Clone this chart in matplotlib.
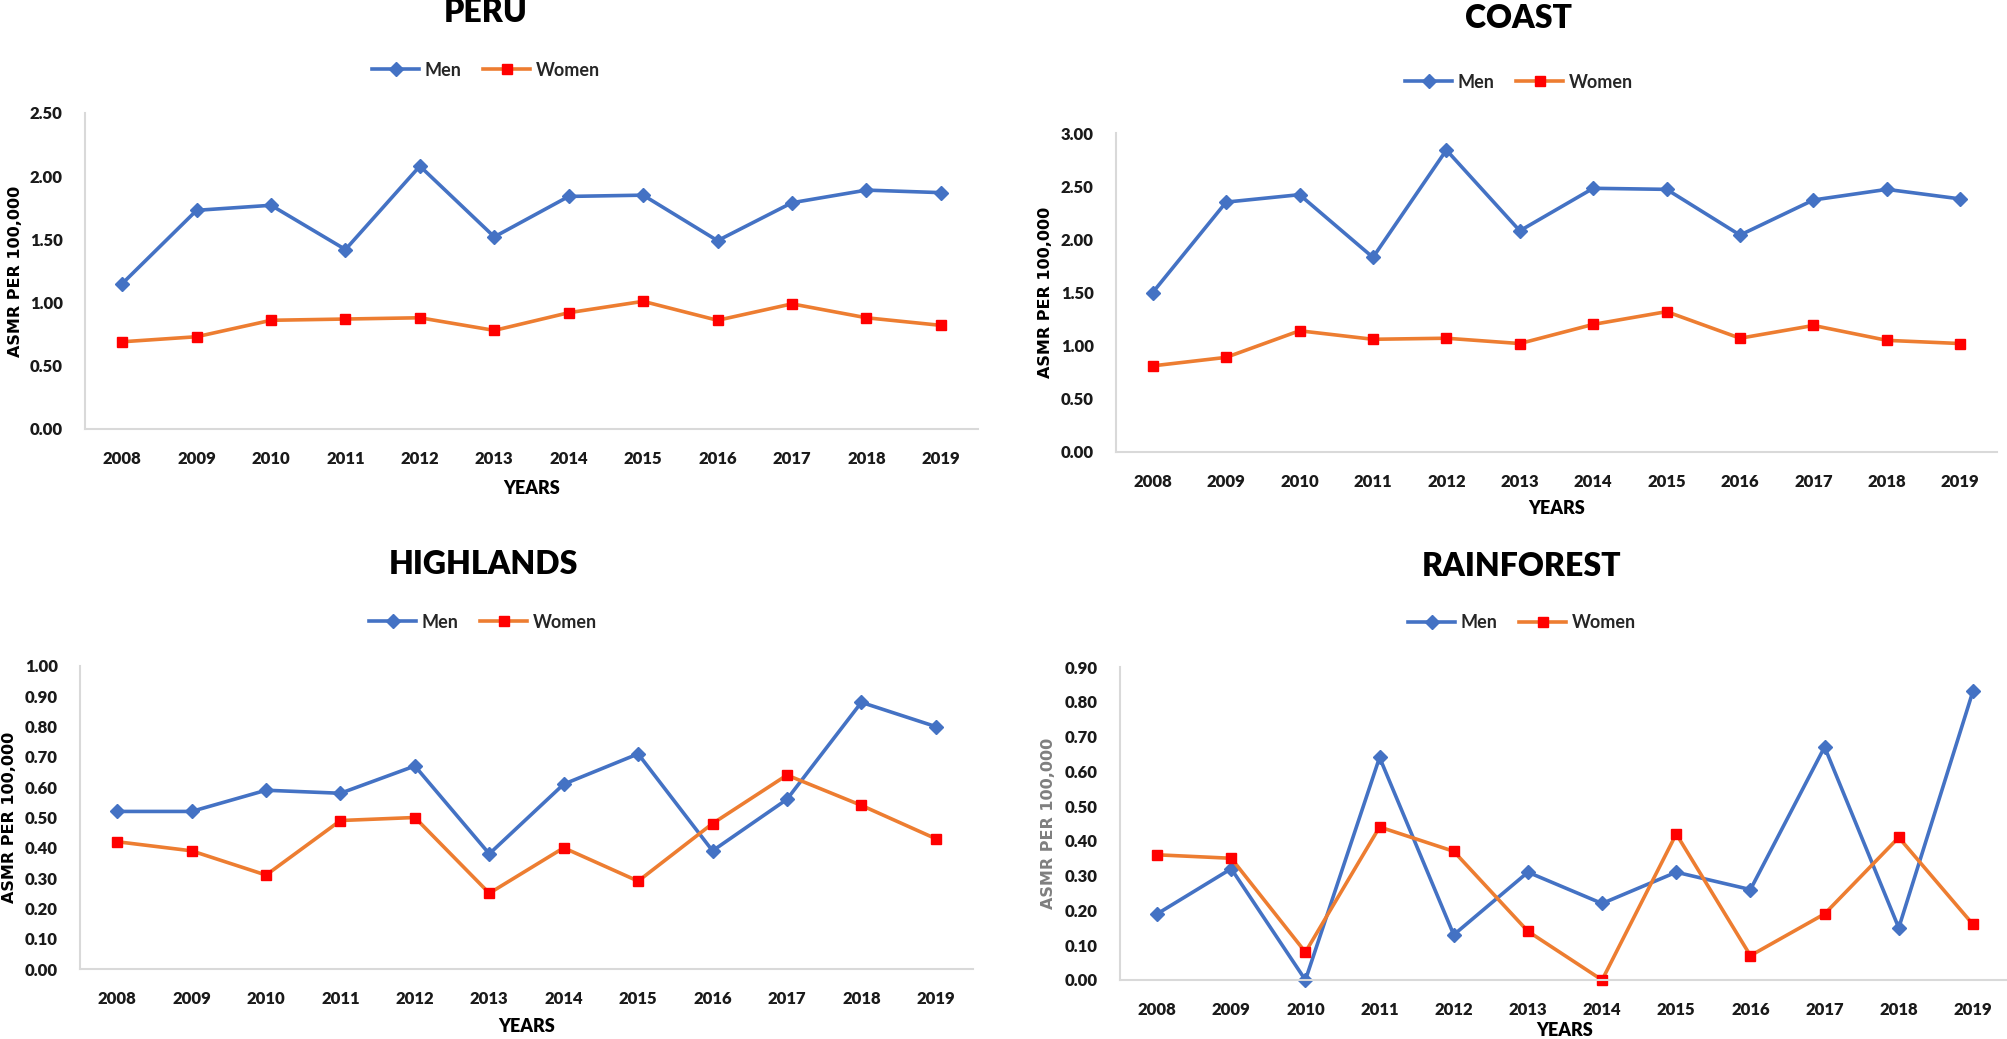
import matplotlib
matplotlib.use('Agg')
import matplotlib.pyplot as plt
from matplotlib import font_manager

years = ['2008', '2009', '2010', '2011', '2012', '2013', '2014', '2015', '2016', '2017', '2018', '2019']

peru_men = [1.15, 1.73, 1.77, 1.42, 2.08, 1.52, 1.84, 1.85, 1.49, 1.79, 1.89, 1.87]
peru_women = [0.69, 0.73, 0.86, 0.87, 0.88, 0.78, 0.92, 1.01, 0.86, 0.99, 0.88, 0.82]

coast_men = [1.50, 2.35, 2.42, 1.83, 2.84, 2.08, 2.48, 2.47, 2.04, 2.37, 2.47, 2.38]
coast_women = [0.81, 0.89, 1.14, 1.06, 1.07, 1.02, 1.20, 1.32, 1.07, 1.19, 1.05, 1.02]

highlands_men = [0.52, 0.52, 0.59, 0.58, 0.67, 0.38, 0.61, 0.71, 0.39, 0.56, 0.88, 0.80]
highlands_women = [0.42, 0.39, 0.31, 0.49, 0.50, 0.25, 0.40, 0.29, 0.48, 0.64, 0.54, 0.43]

rain_men = [0.19, 0.32, 0.00, 0.64, 0.13, 0.31, 0.22, 0.31, 0.26, 0.67, 0.15, 0.83]
rain_women = [0.36, 0.35, 0.08, 0.44, 0.37, 0.14, 0.00, 0.42, 0.07, 0.19, 0.41, 0.16]

available = set(f.name for f in font_manager.fontManager.ttflist)
narrow = 'Liberation Sans Narrow' if 'Liberation Sans Narrow' in available else 'Lato'

W, H = 2008, 1039
fig = plt.figure(figsize=(W / 100, H / 100), dpi=100)

# (title, men, women, ymax, ystep, axes box px [left, right, top, bottom], title xy, legend y, ylabel x, years y, ylabel colour)
panels = [
    ('PERU', peru_men, peru_women, 2.5, 0.5, [85, 978, 113, 429], (486, 12), 70, 16, 488, '#000000'),
    ('COAST', coast_men, coast_women, 3.0, 0.5, [1116, 1997, 133, 452], (1519, 19), 82, 1046, 508, '#000000'),
    ('HIGHLANDS', highlands_men, highlands_women, 1.0, 0.1, [80, 973, 666, 969], (483, 565), 622, 10, 1027, '#000000'),
    ('RAINFOREST', rain_men, rain_women, 0.9, 0.1, [1120, 2010, 667, 980], (1522, 567), 623, 1049, 1031, '#7f7f7f'),
]

for title, men, women, ymax, ystep, box, tpos, legy, ylx, yry, ylc in panels:
    l, r, t, b = box
    ax = fig.add_axes([l / W, 1 - b / H, (r - l) / W, (b - t) / H])
    x = list(range(len(years)))
    ax.plot(x, men, color='#4472C4', lw=2.6, marker='D', ms=7, mfc='#4472C4', mec='#4472C4', label='Men', clip_on=False)
    ax.plot(x, women, color='#ED7D31', lw=2.6, marker='s', ms=7.5, mfc='#FF0000', mec='#FF0000', label='Women', clip_on=False)
    ax.set_xlim(-0.5, len(years) - 0.5)
    ax.set_ylim(0, ymax)
    n = int(round(ymax / ystep))
    ticks = [i * ystep for i in range(n + 1)]
    ax.set_yticks(ticks)
    ax.set_yticklabels([f'{v:.2f}' for v in ticks], fontsize=12, fontweight='heavy', family='Lato', color='#1a1a1a')
    ax.set_xticks(x)
    ax.set_xticklabels(years, fontsize=12, fontweight='heavy', family='Lato', color='#1a1a1a')
    ax.tick_params(length=0, axis='y', pad=16)
    ax.tick_params(length=0, axis='x', pad=16)
    for s in ['top', 'right']:
        ax.spines[s].set_visible(False)
    for s in ['left', 'bottom']:
        ax.spines[s].set_color('#D9D9D9')
        ax.spines[s].set_linewidth(1.5)

    cx = (l + r) / 2
    fig.text(tpos[0] / W, 1 - tpos[1] / H, title, fontsize=23, fontweight='heavy', family=narrow,
             ha='center', va='center')
    fig.text(cx / W, 1 - yry / H, 'YEARS', fontsize=13, fontweight='heavy', family=narrow,
             ha='center', va='center')
    fig.text(ylx / W, 1 - ((t + b) / 2) / H, 'ASMR PER 100,000', fontsize=11.5, fontweight='bold',
             family='DejaVu Sans', rotation=90, ha='center', va='center', color=ylc)
    ax.legend(loc='center', bbox_to_anchor=(tpos[0] / W, 1 - legy / H), bbox_transform=fig.transFigure,
              ncol=2, frameon=False, handlelength=2.6, columnspacing=1.2, handletextpad=0.3,
              prop={'family': 'Lato', 'size': 13, 'weight': 'bold'}, labelcolor='#262626')

fig.savefig('out.png', dpi=100)
